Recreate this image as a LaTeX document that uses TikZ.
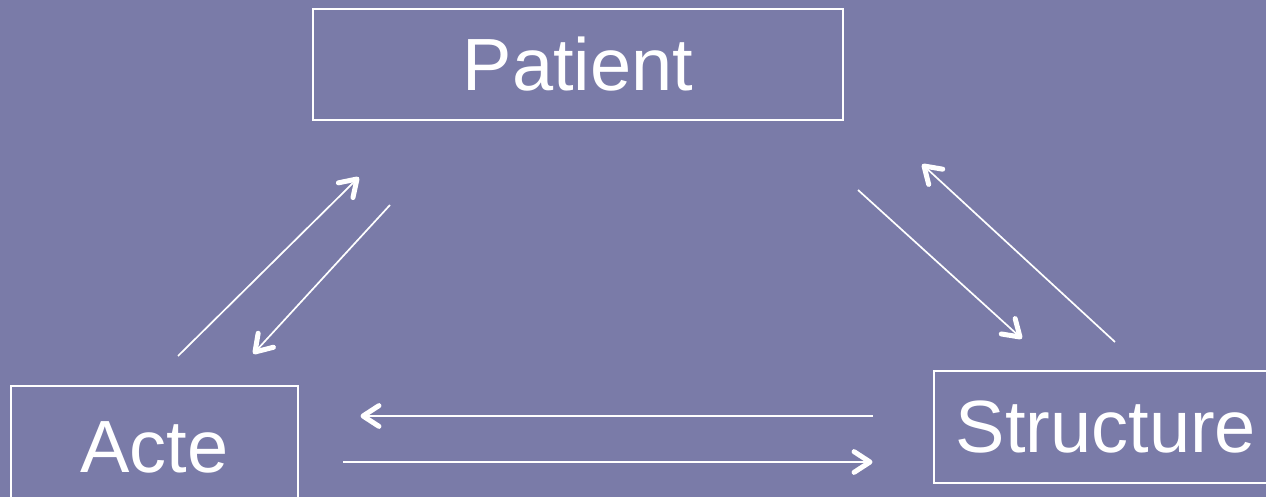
\documentclass[tikz,border=0pt]{standalone}
\usepackage{fontspec}
\setmainfont{Liberation Sans}
\usetikzlibrary{calc}
\definecolor{bg}{RGB}{122,123,168}
\newcommand{\myhead}[2]{\draw[barb] ($(#1)!19pt!33:(#2)$) -- (#1) -- ($(#1)!19pt!-33:(#2)$);}
\begin{document}
\begin{tikzpicture}[x=1pt,y=-1pt,
  box/.style={draw=white,line width=1.6pt,text=white,font=\fontsize{74}{80}\selectfont,inner sep=0pt},
  link/.style={draw=white,line width=1.7pt},
  barb/.style={draw=white,line width=5pt,line cap=round,line join=round}]
\useasboundingbox (0,0) rectangle (1266,497);
\clip (0,0) rectangle (1266,497);
\fill[bg] (0,0) rectangle (1266,497);
\node[box,minimum width=530pt,minimum height=111pt] (patient) at (578,64.5) {Patient};
\node[box,minimum width=287pt,minimum height=122pt] (acte) at (154.5,447) {Acte};
\node[box,anchor=west,inner xsep=22pt,minimum height=112pt] (structure) at (933,427) {Structure};
\coordinate (a1) at (178,356); \coordinate (p1) at (357,179);
\coordinate (p2) at (390,205); \coordinate (a2) at (255,352);
\coordinate (p3) at (858,190); \coordinate (s3) at (1020,337);
\coordinate (s4) at (1115,342); \coordinate (p4) at (924,166);
\coordinate (s5) at (873,416); \coordinate (a5) at (363,416);
\coordinate (a6) at (343,462); \coordinate (s6) at (870,462);
\draw[link] (a1) -- (p1); \myhead{p1}{a1}
\draw[link] (p2) -- (a2); \myhead{a2}{p2}
\draw[link] (p3) -- (s3); \myhead{s3}{p3}
\draw[link] (s4) -- (p4); \myhead{p4}{s4}
\draw[link] (s5) -- (a5); \myhead{a5}{s5}
\draw[link] (a6) -- (s6); \myhead{s6}{a6}
\end{tikzpicture}
\end{document}
